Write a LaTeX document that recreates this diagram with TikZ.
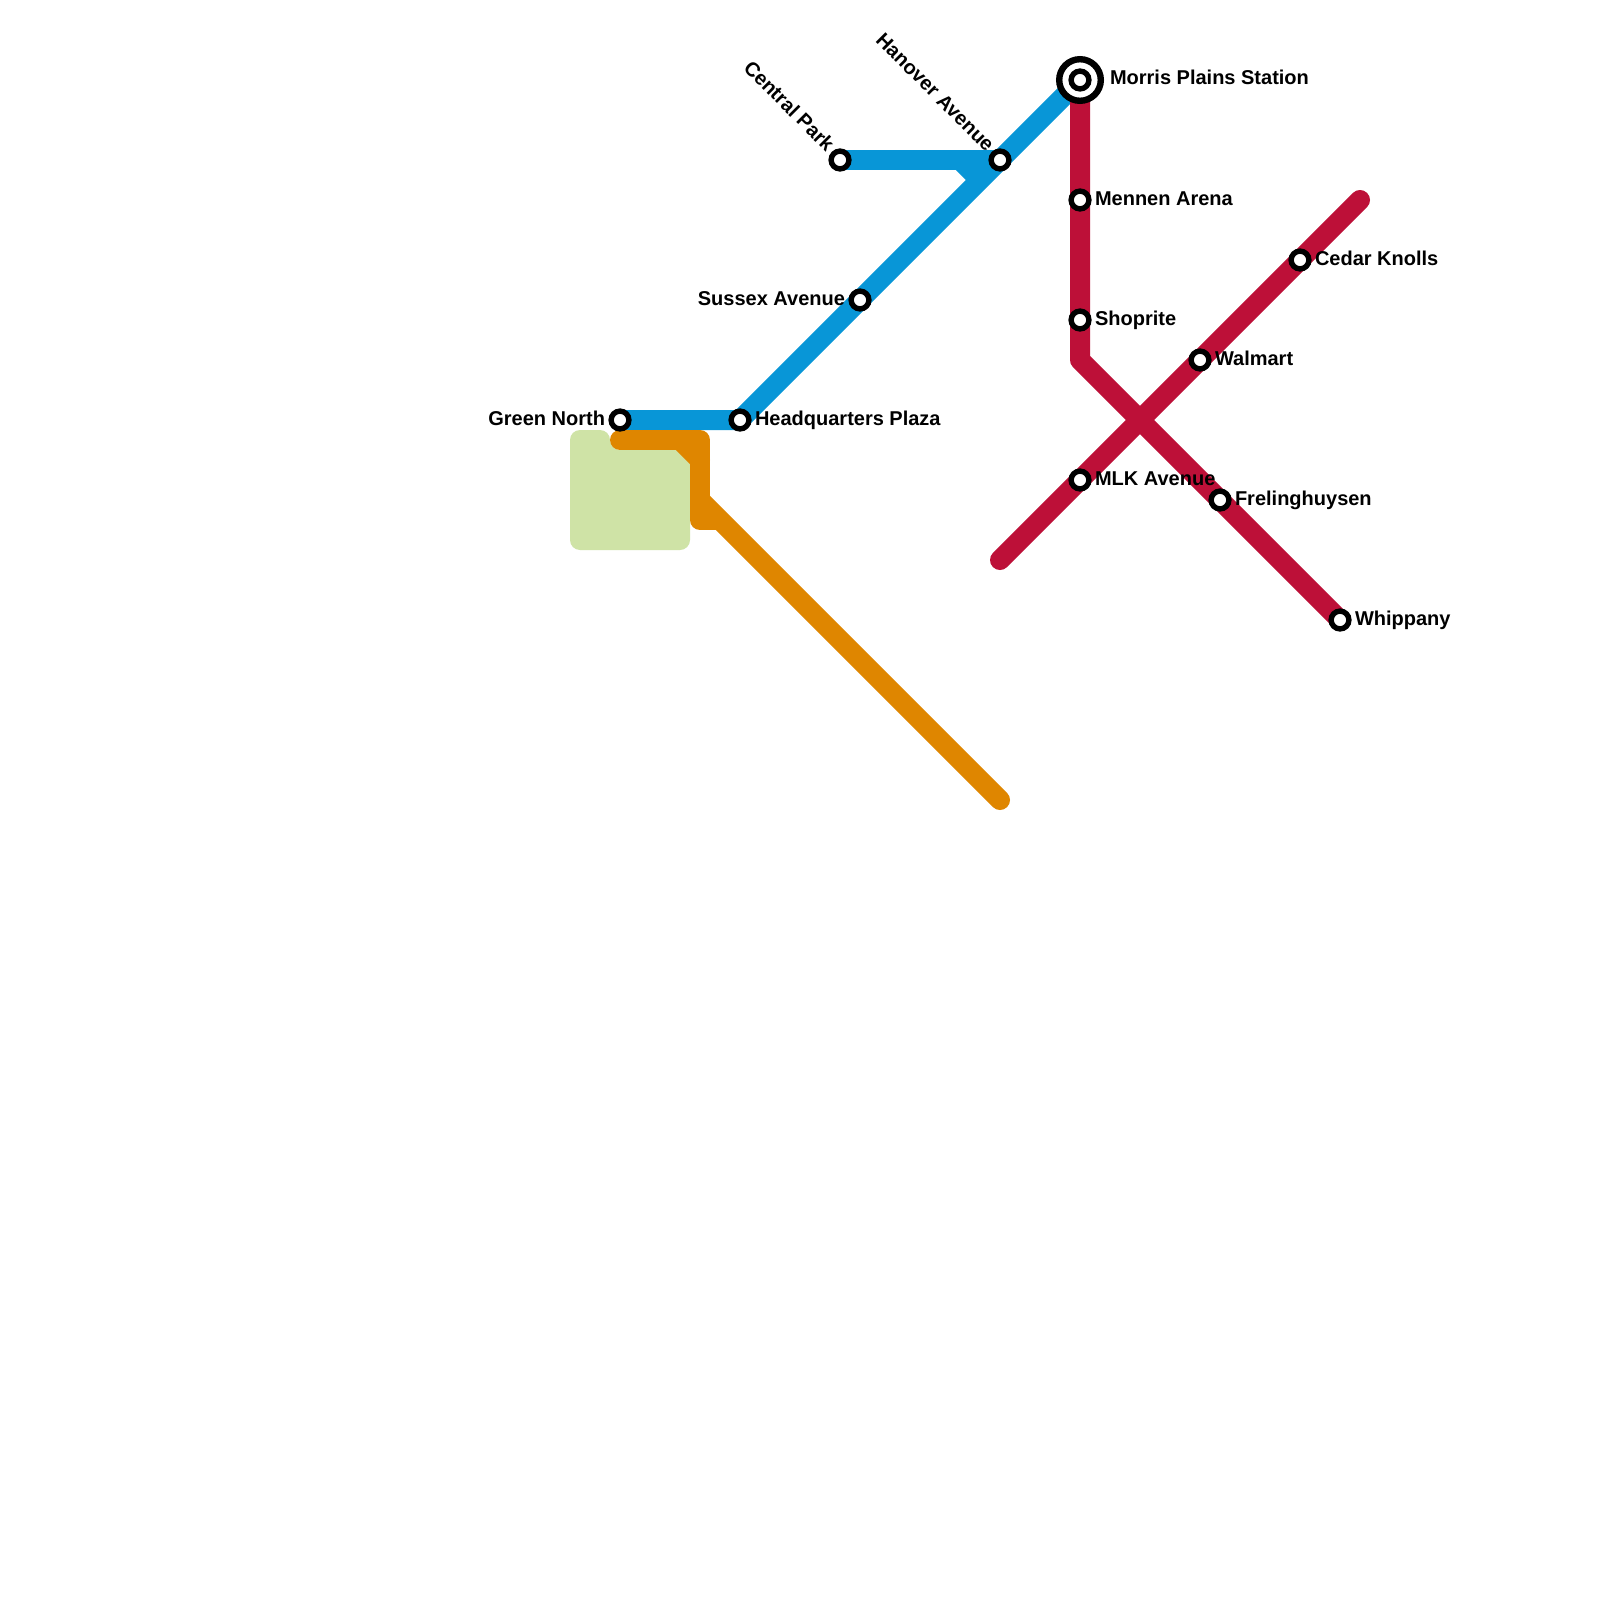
\documentclass[tikz,border=0pt]{standalone}
\usepackage{fontspec}
\setmainfont{Liberation Sans}
\definecolor{lblue}{HTML}{0896D7}
\definecolor{lred}{HTML}{BD1038}
\definecolor{lorange}{HTML}{DF8600}
\definecolor{lgreen}{HTML}{CFE3A6}
\tikzset{
  x=0.5pt,y=-0.5pt,
  metro/.style={line width=10pt,line cap=round,line join=round},
  stop/.style={circle,draw=black,fill=white,line width=2.7pt,minimum size=8.9pt,inner sep=0pt},
  lab/.style={font=\bfseries\fontsize{10}{12}\selectfont,inner sep=0pt,outer sep=0pt,text=black},
  bigring/.style={circle,draw=black,fill=white,line width=3.2pt,minimum size=20.8pt,inner sep=0pt},
}
\begin{document}
\begin{tikzpicture}
\useasboundingbox (0,0) rectangle (1600,1600);
\fill[white] (0,0) rectangle (1600,1600);
\fill[lgreen,rounded corners=5pt] (570,430) -- (610,430) -- (610,450) -- (690,450) -- (690,550) -- (570,550) -- cycle;
% stations
\coordinate (gn) at (620,420);
\coordinate (hq) at (740,420);
\coordinate (sa) at (860,300);
\coordinate (cp) at (840,160);
\coordinate (ha) at (1000,160);
\coordinate (mp) at (1080,80);
\coordinate (ma) at (1080,200);
\coordinate (sh) at (1080,320);
\coordinate (rb) at (1080,360);
\coordinate (mlk) at (1080,480);
\coordinate (fr) at (1220,500);
\coordinate (wh) at (1340,620);
\coordinate (wm) at (1200,360);
\coordinate (ck) at (1300,260);
\coordinate (rs) at (1000,560);
\coordinate (re) at (1360,200);
\coordinate (ba) at (960,160);
\coordinate (bb) at (980,180);
\coordinate (o1) at (620,440);
\coordinate (o2) at (680,440);
\coordinate (o3) at (700,440);
\coordinate (o4) at (700,460);
\coordinate (o5) at (700,520);
\coordinate (o6) at (716,520);
\coordinate (o7) at (700,500);
\coordinate (o8) at (1000,800);
% blue
\draw[metro,lblue] (gn) -- (hq) -- (sa) -- (ha) -- (mp);
\draw[metro,lblue] (cp) -- (ha);
\draw[metro,lblue,line cap=butt] (ba) -- (bb);
% orange
\draw[metro,lorange] (o1) -- (o3) -- (o5) -- (o6);
\draw[metro,lorange] (o2) -- (o4);
\draw[metro,lorange] (o7) -- (o8);
% red
\draw[metro,lred] (mp) -- (ma) -- (sh) -- (rb) -- (fr) -- (wh);
\draw[metro,lred] (rs) -- (mlk) -- (wm) -- (ck) -- (re);
% stops
\node[stop] (ngn) at (gn) {};
\node[stop] (nhq) at (hq) {};
\node[stop] (nsa) at (sa) {};
\node[stop] (ncp) at (cp) {};
\node[stop] (nha) at (ha) {};
\node[stop] (nma) at (ma) {};
\node[stop] (nsh) at (sh) {};
\node[stop] (nmlk) at (mlk) {};
\node[stop] (nfr) at (fr) {};
\node[stop] (nwh) at (wh) {};
\node[stop] (nwm) at (wm) {};
\node[stop] (nck) at (ck) {};
\node[bigring] (nmp) at (mp) {};
\node[stop] (nmpi) at (mp) {};
% labels
\node[lab,anchor=base east] (tgn) at (605,425) {Green North};
\node[lab,anchor=base west] (thq) at (755,425) {Headquarters Plaza};
\node[lab,anchor=base east] (tsa) at (845,305) {Sussex Avenue};
\node[lab,anchor=base east,rotate=-45] (tcp) at (826,152.6) {Central Park};
\node[lab,anchor=base east,rotate=-45] (tha) at (986,152.6) {Hanover Avenue};
\node[lab,anchor=base west] (tmp) at (1110,85) {Morris Plains Station};
\node[lab,anchor=base west] (tma) at (1095,205) {Mennen Arena};
\node[lab,anchor=base west] (tsh) at (1095,325) {Shoprite};
\node[lab,anchor=base west] (tmlk) at (1095,485) {MLK Avenue};
\node[lab,anchor=base west] (tfr) at (1235,505) {Frelinghuysen};
\node[lab,anchor=base west] (twh) at (1355,625) {Whippany};
\node[lab,anchor=base west] (twm) at (1215,365) {Walmart};
\node[lab,anchor=base west] (tck) at (1315,265) {Cedar Knolls};
\end{tikzpicture}
\end{document}
